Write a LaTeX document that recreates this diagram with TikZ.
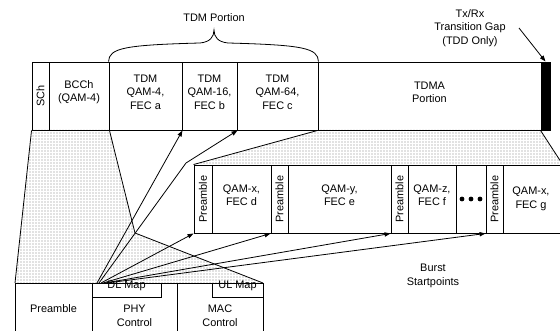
\documentclass[tikz,border=0pt]{standalone}
\usepackage{fontspec}
\setmainfont{Liberation Sans}
\usetikzlibrary{fit,arrows.meta,patterns.meta}
\begin{document}
\begin{tikzpicture}[x=0.75pt,y=-0.75pt,
  font=\fontsize{8.2}{10.2}\selectfont,
  cell/.style={draw, line width=0.7pt, inner sep=0pt, align=center},
  txt/.style={inner sep=0pt, align=center},
  conn/.style={line width=0.6pt, -{Triangle[length=4.5pt,width=3.2pt]}},
  edge/.style={line width=0.6pt},
  dotfill/.style={pattern={Dots[distance=2.25pt,radius=0.5pt]}, pattern color=black!50}]
\useasboundingbox (0,0) rectangle (560,331);
\clip (0,0) rectangle (560,331);

% dotted projection areas
\fill[dotfill] (32,130) -- (109,130) -- (135,233) -- (263,283) -- (15,283) -- cycle;
\fill[dotfill] (318,130) -- (541,130) -- (563,165) -- (194,165) -- cycle;

% top frame
\node[cell, fit={(32,62)(49,130)}] (sch) {};
\node[txt, rotate=90] at (sch.center) {SCh};
\node[cell, fit={(49,62)(109,130)}] (bcch) {BCCh\\(QAM-4)};
\node[cell, fit={(109,62)(182,130)}] (tdm4) {TDM\\QAM-4,\\FEC a};
\node[cell, fit={(182,62)(237,130)}] (tdm16) {TDM\\QAM-16,\\FEC b};
\node[cell, fit={(237,62)(318,130)}] (tdm64) {TDM\\QAM-64,\\FEC c};
\node[cell, fit={(318,62)(541,130)}] (tdma) {TDMA\\Portion};
\node[cell, fill=black, fit={(541,62)(550,130)}] (gap) {};

% TDM brace
\draw[edge] (tdm4.north west) .. controls (109,48) and (125,45) .. (200,43)
  .. controls (210,42) and (214,37) .. (214,30)
  .. controls (214,37) and (218,42) .. (228,43)
  .. controls (303,45) and (318,48) .. (tdm64.north east);
\node[txt] (tdmp) at (214,18) {TDM Portion};

% Tx/Rx label
\node[txt] (txrx) at (470,28) {Tx/Rx\\Transition Gap\\(TDD Only)};
\coordinate (txs) at (519,28);
\draw[conn] (txs) -- (gap.north);

% burst row
\node[cell, fit={(194,165)(212,233)}] (p1) {};
\node[txt, rotate=90] at (p1.center) {Preamble};
\node[cell, fit={(212,165)(271,233)}] (bd) {QAM-x,\\FEC d};
\node[cell, fit={(271,165)(288,233)}] (p2) {};
\node[txt, rotate=90] at (p2.center) {Preamble};
\node[cell, fit={(288,165)(391,233)}] (be) {QAM-y,\\FEC e};
\node[cell, fit={(391,165)(408,233)}] (p3) {};
\node[txt, rotate=90] at (p3.center) {Preamble};
\node[cell, fit={(408,165)(456,233)}] (bf) {QAM-z,\\FEC f};
\node[cell, fit={(456,165)(486,233)}] (bdots) {};
\fill (462,199) circle[radius=1.8pt] (471,199) circle[radius=1.8pt] (480,199) circle[radius=1.8pt];
\node[cell, fit={(486,165)(503,233)}] (p4) {};
\node[txt, rotate=90] at (p4.center) {Preamble};
\node[cell, fit={(503,165)(563,233)}] (bg) {};
\node[txt] at (531,199) {QAM-x,\\FEC g};

% projection edges
\draw[edge] (sch.south west) -- (15,283);
\draw[edge] (bcch.south east) -- (135,233) -- (263,283);
\draw[edge] (tdma.south west) -- (p1.north west);
\draw[edge] (gap.south west) -- (563,165);

% bottom row
\node[cell, fit={(15,283)(92,345)}] (pre) {};
\node[txt] at (53.5,309) {Preamble};
\node[cell, fit={(92,283)(177,345)}] (phy) {};
\node[txt] at (134.5,316) {PHY\\Control};
\node[cell, fit={(177,283)(263,345)}] (mac) {};
\node[txt] at (220,316) {MAC\\Control};
\node[cell, fit={(92,283)(161,297)}] (dl) {DL Map};
\node[cell, fit={(212,283)(263,297)}] (ul) {UL Map};

% burst startpoint arrows
\coordinate (s1) at (97,283);
\coordinate (s2) at (99,283);
\coordinate (s3) at (101,283);
\coordinate (s4) at (103,283);
\coordinate (s5) at (105,283);
\coordinate (s6) at (107,283);
\coordinate (bend) at (186,163);
\draw[conn] (s1) -- (tdm4.south east);
\draw[conn] (s2) -- (bend) -- (tdm16.south east);
\draw[conn] (s3) -- (p1.south west);
\draw[conn] (s4) -- (p2.south west);
\draw[conn] (s5) -- (p3.south west);
\draw[conn] (s6) -- (p4.south west);

\node[txt] (burst) at (433,276) {Burst\\Startpoints};
\end{tikzpicture}
\end{document}
